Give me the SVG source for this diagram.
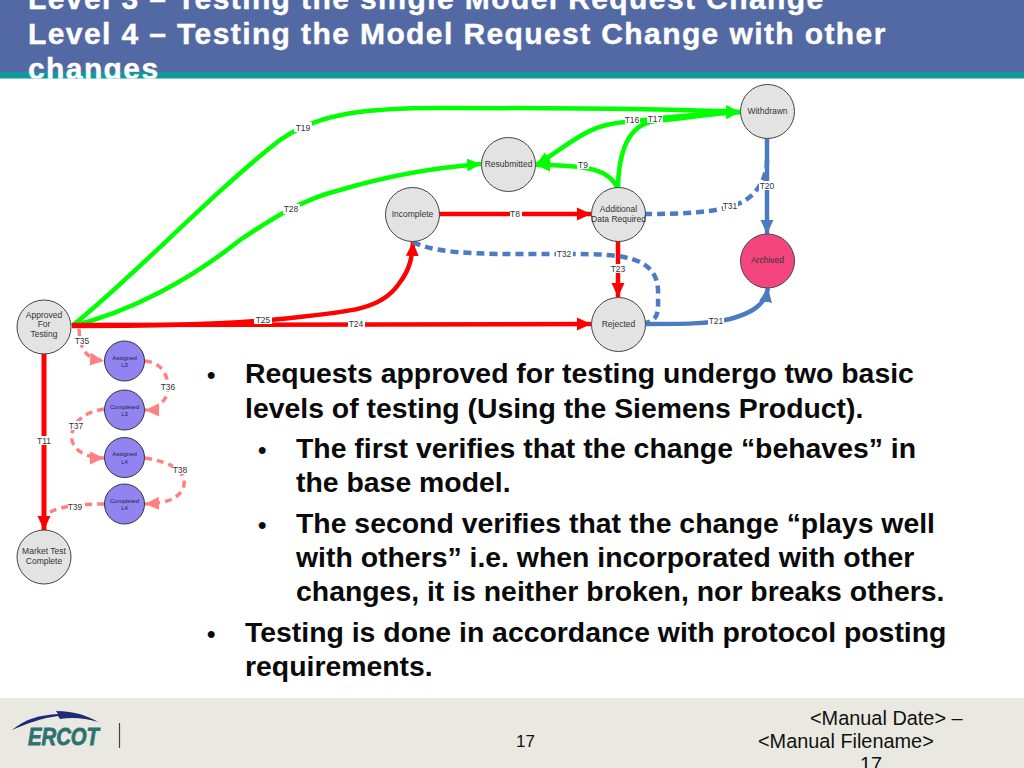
<svg xmlns="http://www.w3.org/2000/svg" width="1024" height="768" viewBox="0 0 1024 768">
<style>
text{font-family:"Liberation Sans",Arial,sans-serif}
.t{font-size:30px;font-weight:700;fill:#fff;letter-spacing:1.4px;stroke:#fff;stroke-width:.4px}
.b{font-size:28.400px;font-weight:700;fill:#0a0a0a}
.q{font-size:24px;font-weight:700;fill:#0a0a0a}
.f{font-size:19.900px;fill:#111}
.n{fill:#e3e3e3;stroke:#444;stroke-width:1}
.p{fill:#9184f0;stroke:#333;stroke-width:1}
.l{font-size:8.500px;fill:#333;text-anchor:middle}
.s{font-size:6px;fill:#224;text-anchor:middle}
.c{fill:none;stroke-width:4.500}
.g{stroke:#0f0}.r{stroke:#f00}.u{stroke:#4a7cc4}
.d{stroke-dasharray:8 5}
.k{fill:none;stroke:#ff8080;stroke-width:3.500;stroke-dasharray:7 5}
.e{font-size:8.500px;fill:#333;text-anchor:middle}
.w{fill:#fff}
</style>
<defs>
<marker id="ag" markerUnits="userSpaceOnUse" markerWidth="15" markerHeight="14" refX="14" refY="7" orient="auto"><path d="M0 0.500L14 7L0 13.500Z" fill="#0f0"/></marker>
<marker id="ar" markerUnits="userSpaceOnUse" markerWidth="15" markerHeight="14" refX="14" refY="7" orient="auto"><path d="M0 0.500L14 7L0 13.500Z" fill="#f00"/></marker>
<marker id="au" markerUnits="userSpaceOnUse" markerWidth="15" markerHeight="14" refX="14" refY="7" orient="auto"><path d="M0 0.500L14 7L0 13.500Z" fill="#4a7cc4"/></marker>
<marker id="ak" markerUnits="userSpaceOnUse" markerWidth="15" markerHeight="14" refX="14" refY="7" orient="auto"><path d="M0 0.500L14 7L0 13.500Z" fill="#ff8080"/></marker>
<clipPath id="tc"><rect width="1024" height="78.500"/></clipPath>
</defs>
<rect width="1024" height="768" fill="#fff"/>
<rect id="title-band" width="1024" height="72" fill="#5369a3"/>
<rect id="title-rule" y="72" width="1024" height="6.500" fill="#0e9a9a"/>
<g id="title">
<text class="t" x="28" y="9">Level 3 – Testing the single Model Request Change</text>
<text class="t" x="28" y="44">Level 4 – Testing the Model Request Change with other</text>
<text class="t" x="28" y="79" clip-path="url(#tc)">changes</text>
</g>
<g id="connectors">
<path class="c g" marker-end="url(#ag)" d="M72 326C130 280 215 190 280 140C320 112 370 108 440 108C560 108 670 109 740 112"/>
<path class="c g" marker-end="url(#ag)" d="M72 326C130 312 190 280 240 240C270 220 300 200 340 190C380 178 430 168 481 164"/>
<path class="c g" marker-end="url(#ag)" d="M618 189C618 160 625 128 650 122C690 117 720 113 740 112"/>
<path class="c g" marker-end="url(#ag)" d="M740 112C710 113 660 118 625 122C585 125 570 145 536 165"/>
<path class="c g" marker-end="url(#ag)" d="M618 189C610 170 590 165 536 165"/>
<path class="c r" marker-end="url(#ar)" d="M72 326C150 326 220 325 280 319C350 312 380 310 398 285C408 272 412 262 413 242"/>
<path class="c r" marker-end="url(#ar)" d="M72 325L591 324"/>
<path class="c r" marker-end="url(#ar)" d="M438 214L591 214"/>
<path class="c r" marker-end="url(#ar)" d="M618 240L618 297"/>
<path class="c r" style="stroke-width:5" marker-end="url(#ar)" d="M44 351L44 530"/>
<path class="c u" marker-end="url(#au)" d="M767 138L767 234"/>
<path class="c u" marker-end="url(#au)" d="M644 324C680 324 710 324 730 319C752 313 765 305 768 288"/>
<path class="c u d" d="M644 214C680 214 715 213 738 204C755 197 767 180 767 160"/>
<path class="c u d" d="M413 242C440 256 500 254 570 254C620 254 660 255 658 295C658 310 660 320 645 323"/>
<path class="k" marker-end="url(#ak)" d="M79 329C80 345 82 358 104 361"/>
<path class="k" marker-end="url(#ak)" d="M145 361C165 363 170 380 167 395C162 405 155 410 145 410"/>
<path class="k" marker-end="url(#ak)" d="M104 409C85 412 70 422 72 440C74 452 90 458 104 458"/>
<path class="k" marker-end="url(#ak)" d="M145 458C170 462 186 470 184 485C180 500 165 503 145 504"/>
<path class="k" d="M104 504C85 504 65 505 50 512"/>
</g>
<g id="edge-labels">
<rect class="w" x="294" y="122" width="18" height="10"/><text class="e" x="303" y="131">T19</text>
<rect class="w" x="283" y="204" width="17" height="10"/><text class="e" x="291" y="212">T28</text>
<rect class="w" x="254" y="315" width="18" height="9"/><text class="e" x="263" y="323">T25</text>
<rect class="w" x="348" y="320" width="17" height="9"/><text class="e" x="356" y="327">T24</text>
<rect class="w" x="510" y="209" width="12" height="9"/><text class="e" x="515" y="217">T8</text>
<rect class="w" x="577" y="160" width="12" height="9"/><text class="e" x="583" y="168">T9</text>
<rect class="w" x="625" y="115" width="15" height="9"/><text class="e" x="632" y="123">T16</text>
<rect class="w" x="647" y="114" width="16" height="9"/><text class="e" x="655" y="122">T17</text>
<rect class="w" x="759" y="181" width="16" height="9"/><text class="e" x="767" y="189">T20</text>
<rect class="w" x="723" y="201" width="15" height="9"/><text class="e" x="730" y="209">T31</text>
<rect class="w" x="556" y="249" width="17" height="9"/><text class="e" x="564" y="257">T32</text>
<rect class="w" x="610" y="264" width="16" height="9"/><text class="e" x="618" y="272">T23</text>
<rect class="w" x="708" y="316" width="16" height="9"/><text class="e" x="716" y="324">T21</text>
<rect class="w" x="75" y="336" width="15" height="9"/><text class="e" x="82" y="344">T35</text>
<rect class="w" x="160" y="382" width="15" height="9"/><text class="e" x="168" y="390">T36</text>
<rect class="w" x="69" y="421" width="15" height="9"/><text class="e" x="76" y="429">T37</text>
<rect class="w" x="173" y="465" width="15" height="9"/><text class="e" x="180" y="473">T38</text>
<rect class="w" x="68" y="503" width="15" height="9"/><text class="e" x="75" y="510">T39</text>
<rect class="w" x="36" y="436" width="16" height="9"/><text class="e" x="44" y="444">T11</text>
</g>
<g id="approved"><circle class="n" cx="44" cy="327" r="27"/><text class="l" x="44" y="318">Approved</text><text class="l" x="44" y="327">For</text><text class="l" x="44" y="337">Testing</text></g>
<g id="market-test-complete"><circle class="n" cx="44" cy="557" r="27"/><text class="l" x="44" y="554">Market Test</text><text class="l" x="44" y="564">Complete</text></g>
<g id="assigned-l3"><circle class="p" cx="124.500" cy="361" r="20"/><text class="s" x="124.500" y="360">Assigned</text><text class="s" x="124.500" y="367">L3</text></g>
<g id="completed-l3"><circle class="p" cx="124.500" cy="410" r="20"/><text class="s" x="124.500" y="409">Completed</text><text class="s" x="124.500" y="416">L3</text></g>
<g id="assigned-l4"><circle class="p" cx="124.500" cy="457.500" r="20"/><text class="s" x="124.500" y="456">Assigned</text><text class="s" x="124.500" y="464">L4</text></g>
<g id="completed-l4"><circle class="p" cx="124.500" cy="504" r="20"/><text class="s" x="124.500" y="503">Completed</text><text class="s" x="124.500" y="510">L4</text></g>
<g id="withdrawn"><circle class="n" cx="767.500" cy="111.500" r="27"/><text class="l" x="767.500" y="114">Withdrawn</text></g>
<g id="resubmitted"><circle class="n" cx="508.500" cy="164.500" r="27"/><text class="l" x="508.500" y="167">Resubmitted</text></g>
<g id="incomplete"><circle class="n" cx="412.500" cy="214.500" r="27"/><text class="l" x="412.500" y="217">Incomplete</text></g>
<g id="additional-data-required"><circle class="n" cx="618.500" cy="214.500" r="27"/><text class="l" x="618.500" y="212">Additional</text><text class="l" x="618.500" y="222">Data Required</text></g>
<g id="archived"><circle cx="767.500" cy="261" r="27" fill="#f4457f" stroke="#444"/><text class="l" x="767.500" y="263">Archived</text></g>
<g id="rejected"><circle class="n" cx="618.500" cy="324.500" r="27"/><text class="l" x="618.500" y="327">Rejected</text></g>
<g id="body">
<text class="q" x="207" y="383">•</text><text class="b" x="245" y="383">Requests approved for testing undergo two basic</text>
<text class="b" x="245" y="418">levels of testing (Using the Siemens Product).</text>
<text class="q" x="258" y="458">•</text><text class="b" x="296" y="458">The first verifies that the change “behaves” in</text>
<text class="b" x="296" y="492">the base model.</text>
<text class="q" x="258" y="533">•</text><text class="b" x="296" y="533">The second verifies that the change “plays well</text>
<text class="b" x="296" y="567">with others” i.e. when incorporated with other</text>
<text class="b" x="296" y="601">changes, it is neither broken, nor breaks others.</text>
<text class="q" x="207" y="642">•</text><text class="b" x="245" y="642">Testing is done in accordance with protocol posting</text>
<text class="b" x="245" y="676">requirements.</text>
</g>
<g id="footer">
<rect y="698" width="1024" height="70" fill="#e9e9e1"/>
<path d="M12 730C25 719 40 715 58 714L56 711C75 711 88 716 98 722C85 718 72 717 60 719L58 716C42 718 28 723 12 730Z" fill="#1c2a78"/>
<text x="28" y="745" font-size="24" font-weight="700" font-style="italic" fill="#2c7270" stroke="#2c7270" stroke-width=".8" textLength="71" lengthAdjust="spacingAndGlyphs">ERCOT</text>
<path d="M119.500 723V748" stroke="#444" stroke-width="1.200"/>
<text x="516" y="747" font-size="17" fill="#111">17</text>
<text class="f" x="810" y="725">&lt;Manual Date&gt; –</text>
<text class="f" x="758" y="748">&lt;Manual Filename&gt;</text>
<text class="f" x="860" y="771">17</text>
</g>
</svg>
